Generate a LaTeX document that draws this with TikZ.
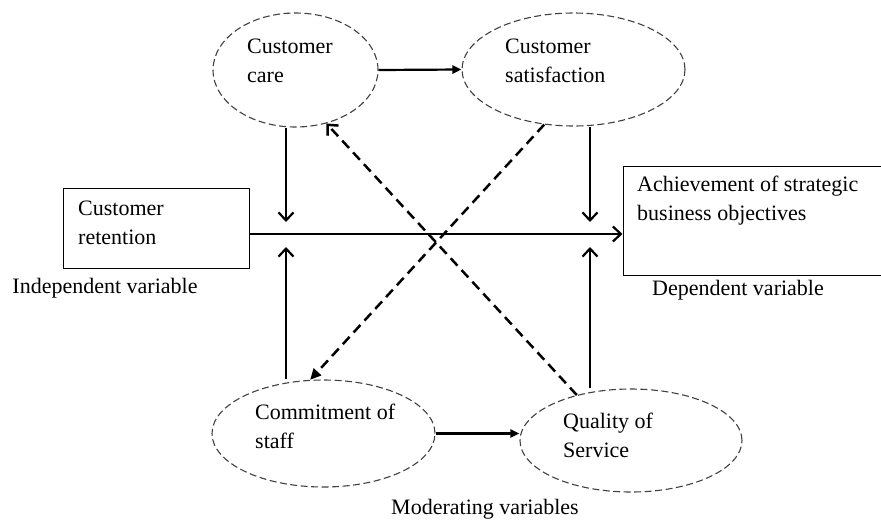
\documentclass[tikz,border=0pt]{standalone}
\usepackage{fontspec}
\setmainfont{Liberation Serif}
\usetikzlibrary{arrows.meta,shapes.geometric}

\begin{document}
\begin{tikzpicture}[x=1pt, y=-1pt,
		font=\fontsize{22}{28.5}\selectfont,
		oval/.style={ellipse, draw=black!75, line width=1.1pt, dash pattern=on 7pt off 3.5pt, inner sep=0pt},
		box/.style={rectangle, draw, line width=1pt, inner sep=0pt},
		txt/.style={anchor=north west, align=left, inner sep=0pt},
		arr/.style={line width=2.2pt, -{Straight Barb[length=8pt, width=15pt]}},
		harr/.style={line width=2.2pt, -{Triangle[length=9pt, width=8pt]}},
		darr/.style={line width=2.5pt, dash pattern=on 10pt off 6pt}]
			%%%%% START %%%%%
			\useasboundingbox (0, 0) rectangle (881, 520);
			
			% upper ellipses
			\node[oval, minimum width=165pt, minimum height=114pt] (care) at (295.5, 70) {};
			\node[txt] (caretxt) at (247, 39) {Customer\\care};
			\node[oval, minimum width=223pt, minimum height=113pt] (sat) at (573.5, 69.5) {};
			\node[txt] (sattxt) at (505, 39) {Customer\\satisfaction};
			
			% lower ellipses
			\node[oval, minimum width=223pt, minimum height=107pt] (staff) at (323.5, 433.5) {};
			\node[txt] (stafftxt) at (255, 404) {Commitment of\\staff};
			\node[oval, minimum width=222pt, minimum height=103pt] (qual) at (631, 440.5) {};
			\node[txt] (qualtxt) at (563, 413) {Quality of\\Service};
			
			% boxes
			\node[box, minimum width=186pt, minimum height=80pt] (ret) at (156, 228) {};
			\node[txt] (rettxt) at (78, 201) {Customer\\retention};
			\node[box, minimum width=270pt, minimum height=109pt] (goal) at (758, 220.5) {};
			\node[txt] (goaltxt) at (637, 176) {Achievement of strategic\\business objectives};
			
			\node (indep) at (105, 288) {Independent variable};
			\node (dep) at (738, 290) {Dependent variable};
			\node (mod) at (485, 509) {Moderating variables};
			
			% joints on the main line
			\coordinate (lj) at (286, 234);
			\coordinate (rj) at (590, 234);
			
			\draw[arr] (ret.east |- lj) -- (goal.west |- lj);
			\draw[arr] (care.south -| lj) -- ([yshift=12pt]lj);
			\draw[arr] (staff.north -| lj) -- ([yshift=-13pt]lj);
			\draw[arr] (sat.south -| rj) -- ([yshift=12pt]rj);
			\draw[arr] (qual.north -| rj) -- ([yshift=-13pt]rj);
			
			\draw[harr] (care.east) -- (sat.west);
			\draw[harr] (staff.east) -- (staff.east -| qual.west);
			
			% crossing dashed links
			\draw[darr, -{Triangle[length=11pt, width=10pt]}] (sat.242) -- (staff.104);
			\draw[darr, -{Straight Barb[length=8pt, width=15pt]}] (qual.140) -- (care.300);
			%%%%% END %%%%%
\end{tikzpicture}
\end{document}
